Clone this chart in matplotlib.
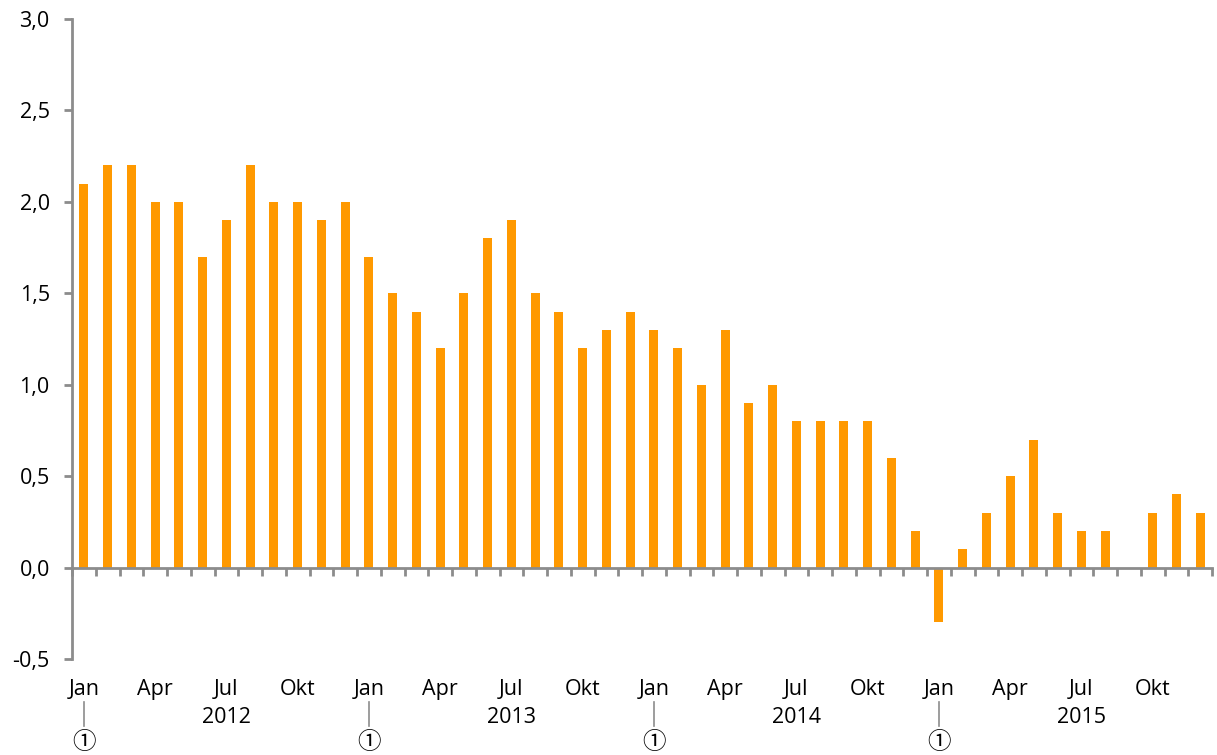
import matplotlib
matplotlib.use("Agg")
import matplotlib.pyplot as plt
import matplotlib.transforms as mtransforms

# monthly values Jan 2012 - Dec 2015
years = ["2012", "2013", "2014", "2015"]
month_labels = ["Jan", "Apr", "Jul", "Okt"]
values_2012 = [2.1, 2.2, 2.2, 2.0, 2.0, 1.7, 1.9, 2.2, 2.0, 2.0, 1.9, 2.0]
values_2013 = [1.7, 1.5, 1.4, 1.2, 1.5, 1.8, 1.9, 1.5, 1.4, 1.2, 1.3, 1.4]
values_2014 = [1.3, 1.2, 1.0, 1.3, 0.9, 1.0, 0.8, 0.8, 0.8, 0.8, 0.6, 0.2]
values_2015 = [-0.3, 0.1, 0.3, 0.5, 0.7, 0.3, 0.2, 0.2, 0.0, 0.3, 0.4, 0.3]
y_ticks = [-0.5, 0.0, 0.5, 1.0, 1.5, 2.0, 2.5, 3.0]

values = values_2012 + values_2013 + values_2014 + values_2015
n = len(values)

plt.rcParams['font.family'] = ['Open Sans', 'DejaVu Sans', 'Noto Sans CJK SC']
grey = '#8c8c8c'
orange = '#ff9900'
fs = 15.5

fig = plt.figure(figsize=(12.17, 7.55), dpi=100)
ax = fig.add_axes([72 / 1217, 1 - 659 / 755, 1140 / 1217, 640 / 755])

ax.bar(range(n), values, width=0.38, color=orange)

ax.set_xlim(-0.5, n - 0.5)
ax.set_ylim(-0.5, 3.0)
ax.set_yticks(y_ticks)
ax.set_yticklabels([f"{t:.1f}".replace('.', ',') for t in y_ticks], fontsize=fs)

for s in ['top', 'right']:
    ax.spines[s].set_visible(False)
ax.spines['left'].set_color(grey)
ax.spines['left'].set_linewidth(2)
ax.spines['bottom'].set_position(('data', 0))
ax.spines['bottom'].set_color(grey)
ax.spines['bottom'].set_linewidth(2)

ax.set_xticks([i - 0.5 for i in range(n + 1)])
ax.set_xticklabels([])
ax.tick_params(axis='x', direction='out', length=6, width=2, color=grey)
ax.tick_params(axis='y', direction='out', length=6, width=2, color=grey, pad=10)

trans = mtransforms.blended_transform_factory(ax.transData, ax.transAxes)
for k, yr in enumerate(years):
    base = k * 12
    for j, m in enumerate(month_labels):
        ax.text(base + j * 3, -0.048, m, transform=trans, ha='center', va='center',
                fontsize=fs, clip_on=False)
    ax.text(base + 6, -0.092, yr, transform=trans, ha='center', va='center',
            fontsize=fs, clip_on=False)
    ax.plot([base, base], [-0.067, -0.105], transform=trans, color=grey,
            lw=1.2, clip_on=False)
    ax.text(base, -0.13, "\u2460", transform=trans, ha='center', va='center',
            fontsize=17, clip_on=False, family=['Noto Sans CJK SC', 'DejaVu Sans'])

fig.savefig("out.png", dpi=100)
